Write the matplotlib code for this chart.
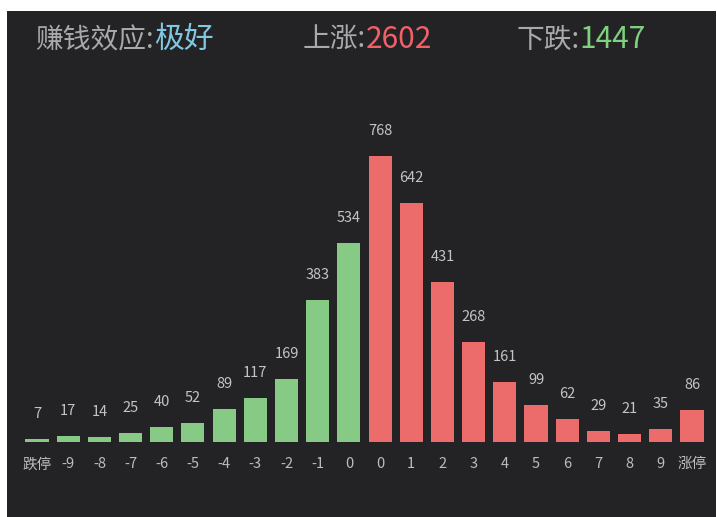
import matplotlib
matplotlib.use('Agg')
import matplotlib.pyplot as plt
from matplotlib.patches import Rectangle

plt.rcParams['font.family'] = ['Noto Sans CJK SC', 'DejaVu Sans']

# data
labels = ['跌停', '-9', '-8', '-7', '-6', '-5', '-4', '-3', '-2', '-1', '0',
          '0', '1', '2', '3', '4', '5', '6', '7', '8', '9', '涨停']
values = [7, 17, 14, 25, 40, 52, 89, 117, 169, 383, 534,
          768, 642, 431, 268, 161, 99, 62, 29, 21, 35, 86]
n_down = 11  # first 11 bars are green
up_total = 2602
down_total = 1447
mood = '极好'

bg = '#232325'
green = '#86ca86'
red = '#ec6b6b'
gray = '#a9a9ab'

W, H = 717, 517
fig = plt.figure(figsize=(W / 100, H / 100), dpi=100)
fig.patch.set_facecolor('white')
fig.patches.append(Rectangle((7 / W, 0), 709 / W, 506 / H, transform=fig.transFigure,
                             facecolor=bg, edgecolor='none', zorder=-5))

# axes placed so that bars line up with the reference
spacing = 31.19
x0 = 37
base = 442
top = 11
ax = fig.add_axes([0, (H - base) / H, 1, (base - top) / H])
ax.set_facecolor('none')
ax.set_xlim(-x0 / spacing, (W - x0) / spacing)
ax.set_ylim(0, (base - top) / 0.372)

xs = list(range(len(values)))
colors = [green] * n_down + [red] * (len(values) - n_down)
ax.bar(xs, values, width=0.74, color=colors, zorder=2)

for x, v in zip(xs, values):
    ax.annotate(str(v), xy=(x, v), xytext=(0, 18), textcoords='offset points',
                ha='center', va='center', fontsize=10.5, color='#c4c4c6')

ax.set_xticks(xs)
ax.set_xticklabels(labels, fontsize=10.5, color='#bdbdbf')
ax.tick_params(axis='x', length=0, pad=11)
ax.set_yticks([])
for s in ax.spines.values():
    s.set_visible(False)

# header line
def header(x, head, val, col):
    t = fig.text(x / W, 1 - 48 / H, head, fontsize=20, color=gray, va='baseline')
    ax.annotate(val, xy=(1, 0), xycoords=t, va='bottom', ha='left',
                fontsize=21.5, color=col, annotation_clip=False)

header(35, '赚钱效应:', mood, '#80c8e2')
header(303, '上涨:', str(up_total), '#ef6068')
header(516, '下跌:', str(down_total), '#7fd07f')

fig.savefig('out.png', dpi=100, facecolor=fig.get_facecolor())
